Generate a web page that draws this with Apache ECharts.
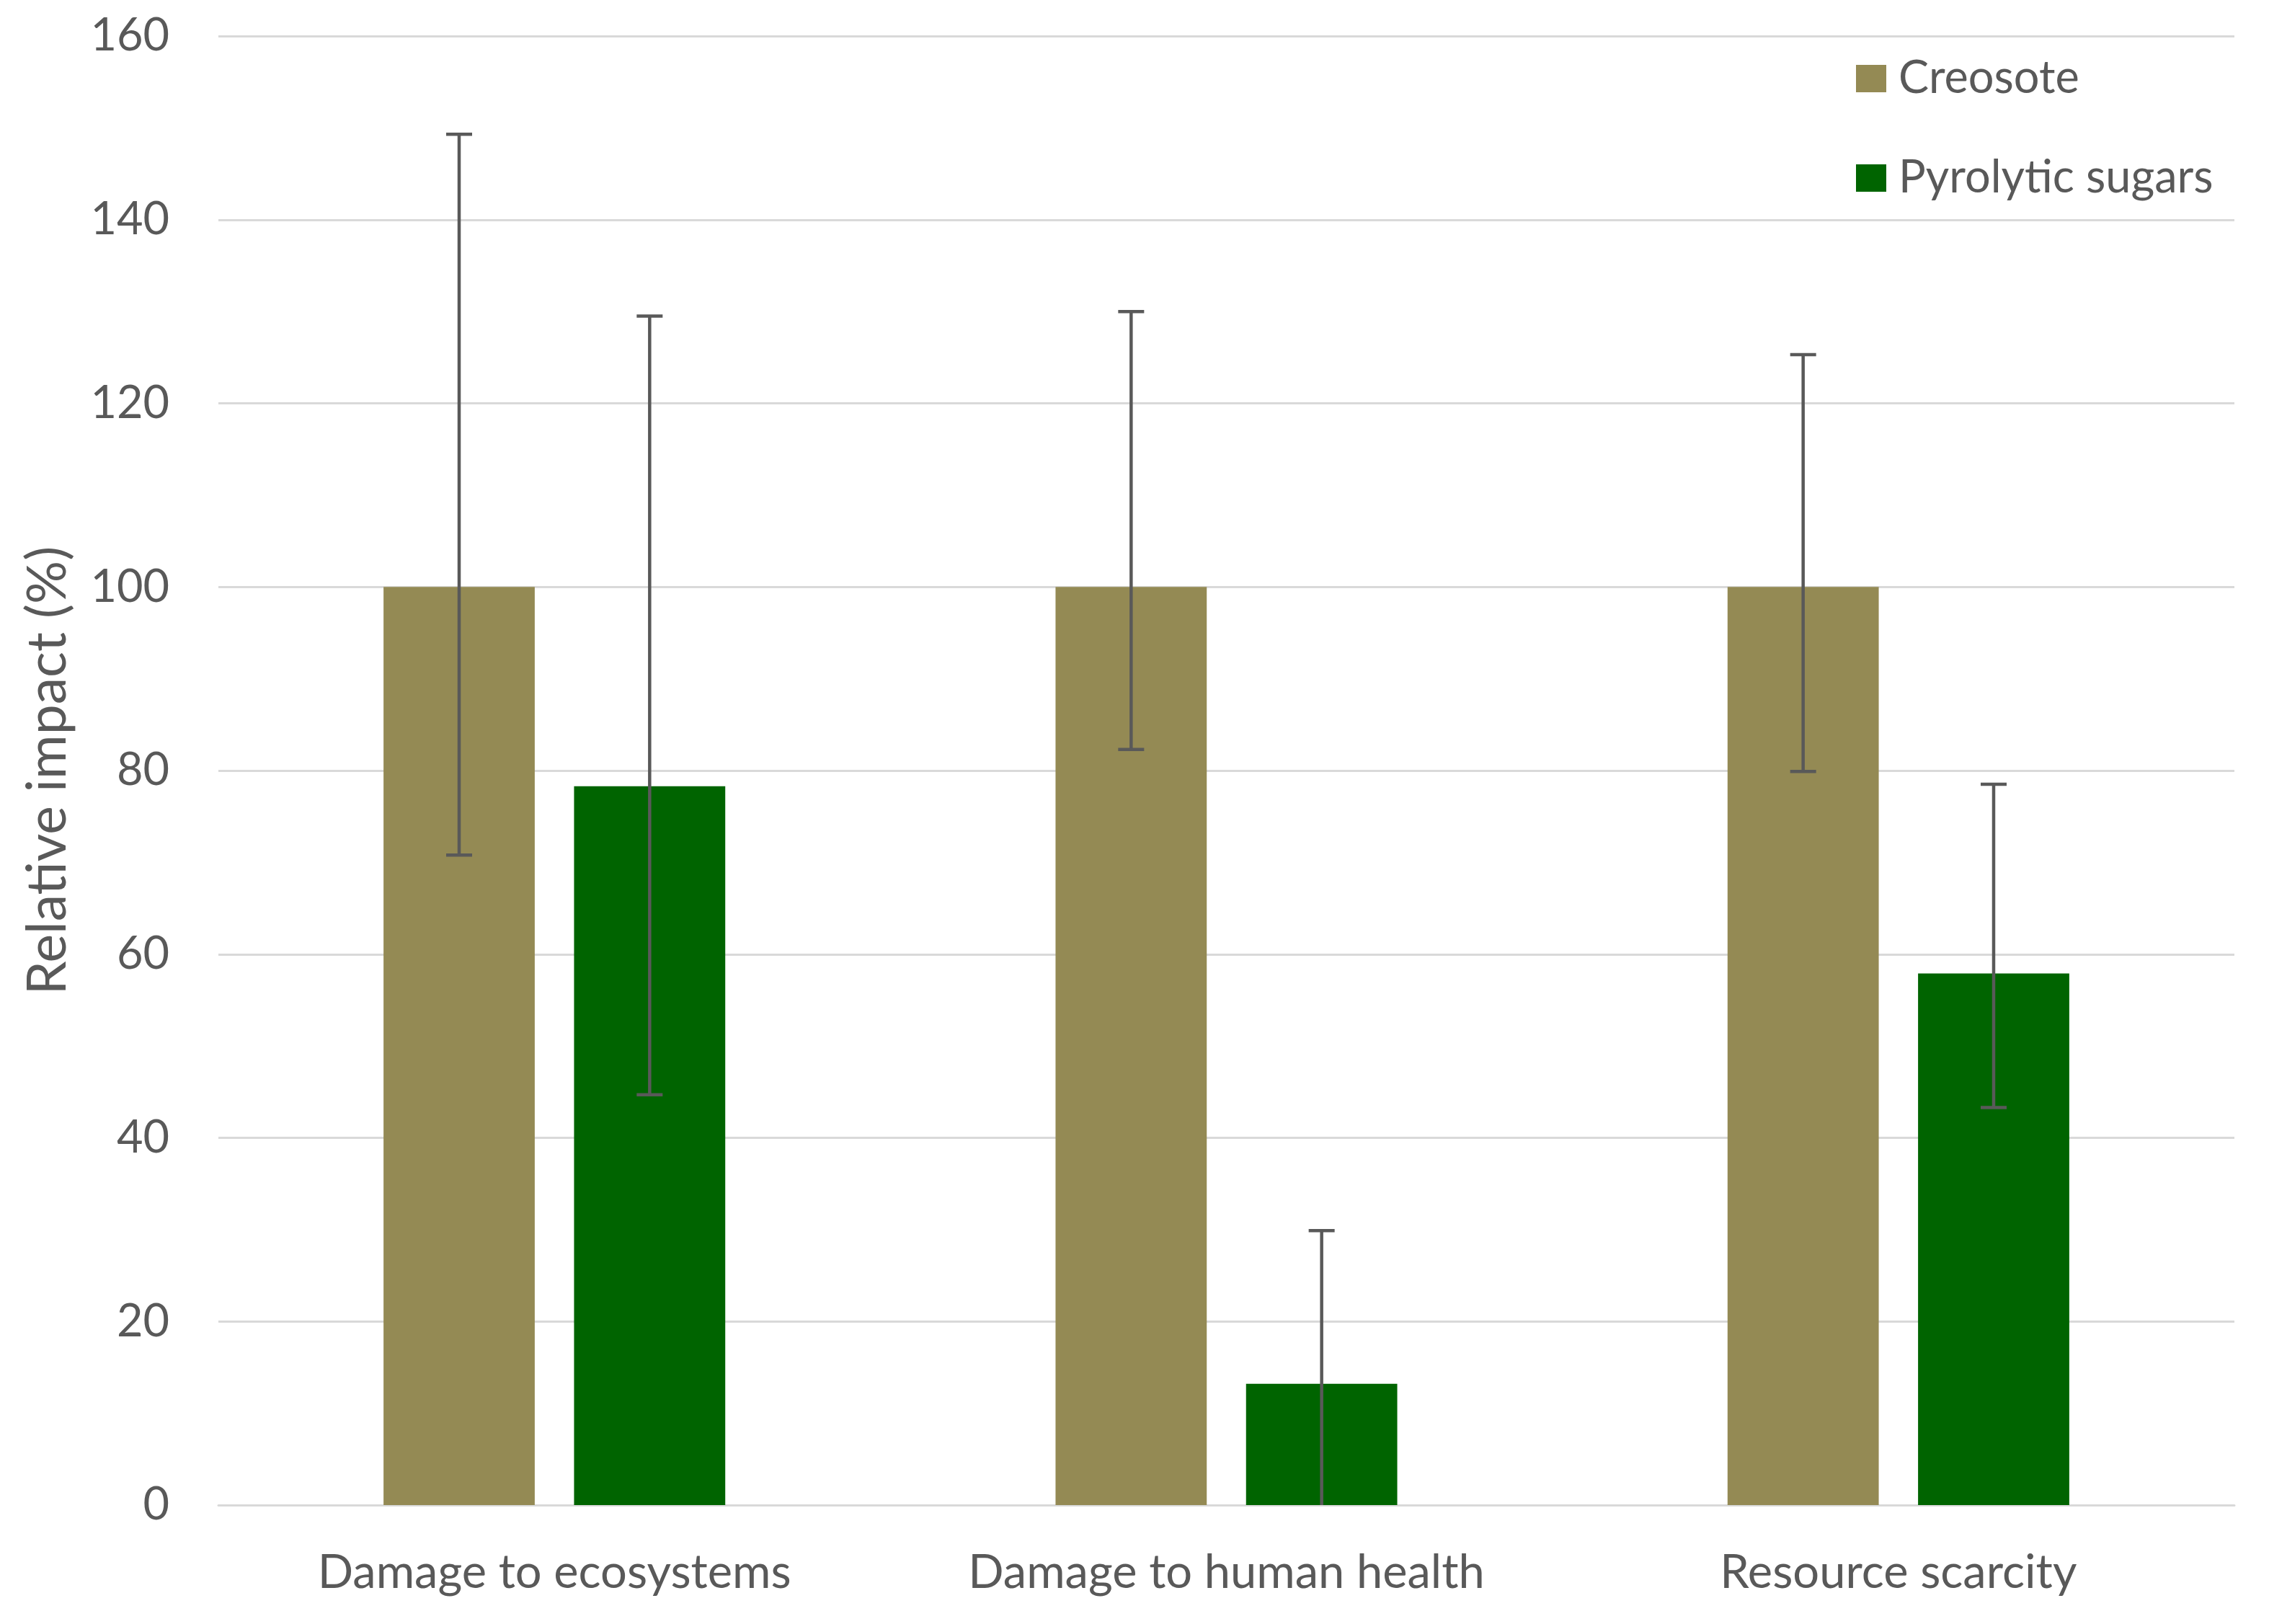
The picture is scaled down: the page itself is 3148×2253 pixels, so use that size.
<!DOCTYPE html>
<html>
<head>
<meta charset="utf-8">
<script src="https://cdn.jsdelivr.net/npm/echarts@6/dist/echarts.min.js"></script>
<style>
html,body{margin:0;padding:0;background:#fff;}
#chart{width:3148px;height:2253px;}
</style>
</head>
<body>
<div id="chart"></div>
<script>
const categories = ['Damage to ecosystems', 'Damage to human health', 'Resource scarcity'];
const seriesNames = ['Creosote', 'Pyrolytic sugars'];
const creosote = [100, 100, 100];
const pyrolytic = [78.3, 13.2, 57.9];
const creosoteHigh = [149.3, 130.0, 125.3];
const creosoteLow = [70.8, 82.3, 79.9];
const pyrolyticHigh = [129.5, 29.9, 78.5];
const pyrolyticLow = [44.7, -3.5, 43.3];
const yTicks = [0, 20, 40, 60, 80, 100, 120, 140, 160];

const FONT = 'Lato';
const TEXT = '#595959';
const BAR_PCT = 0.225;
const GAP_PCT = 0.26;

function errorSeries(name, high, low, side) {
  const data = categories.map((c, i) => [i, low[i], high[i]]);
  return {
    type: 'custom',
    name: name + ' error',
    clip: true,
    z: 10,
    silent: true,
    data: data,
    encode: { x: 0, y: [1, 2] },
    renderItem: function (params, api) {
      const ci = api.value(0);
      const lo = api.value(1);
      const hi = api.value(2);
      const catW = api.size([1, 0])[0];
      const bw = catW * BAR_PCT;
      const off = side * (bw + bw * GAP_PCT) / 2;
      const pHi = api.coord([ci, hi]);
      const pLo = api.coord([ci, lo]);
      const x = pHi[0] + off;
      const cap = 18;
      const style = { stroke: '#595959', lineWidth: 4.5 };
      const children = [
        { type: 'line', shape: { x1: x, y1: pHi[1], x2: x, y2: pLo[1] }, style: style },
        { type: 'line', shape: { x1: x - cap, y1: pHi[1], x2: x + cap, y2: pHi[1] }, style: style }
      ];
      if (lo > 0) {
        children.push({ type: 'line', shape: { x1: x - cap, y1: pLo[1], x2: x + cap, y2: pLo[1] }, style: style });
      }
      return { type: 'group', children: children };
    }
  };
}

const chart = echarts.init(document.getElementById('chart'), null, { renderer: 'canvas' });
chart.setOption({
  backgroundColor: '#ffffff',
  animation: false,
  textStyle: { fontFamily: FONT },
  grid: { left: 303, right: 48, top: 50, bottom: 165, containLabel: false },
  legend: {
    data: seriesNames,
    orient: 'vertical',
    left: 2570,
    top: 64,
    itemWidth: 42,
    itemHeight: 38,
    itemGap: 58,
    icon: 'rect',
    textStyle: { fontFamily: FONT, fontSize: 63, color: TEXT, lineHeight: 80, padding: [0, 0, 0, 12] }
  },
  xAxis: {
    type: 'category',
    data: categories,
    axisLine: { show: true, lineStyle: { color: '#D9D9D9', width: 3 } },
    axisTick: { show: false },
    axisLabel: { fontFamily: FONT, fontSize: 65, color: TEXT, margin: 62 }
  },
  yAxis: {
    type: 'value',
    min: 0,
    max: 160,
    interval: 20,
    name: 'Relative impact (%)',
    nameLocation: 'middle',
    nameGap: 199,
    nameTextStyle: { fontFamily: FONT, fontSize: 75, color: TEXT },
    axisLine: { show: false },
    axisTick: { show: false },
    axisLabel: {
      fontFamily: FONT, fontSize: 63, color: TEXT, margin: 68,
      formatter: function (v) { return yTicks.indexOf(v) >= 0 ? String(v) : ''; }
    },
    splitLine: { show: true, lineStyle: { color: '#D9D9D9', width: 3 } }
  },
  series: [
    {
      name: seriesNames[0], type: 'bar', data: creosote,
      barWidth: (BAR_PCT * 100) + '%', barGap: (GAP_PCT * 100) + '%',
      itemStyle: { color: '#948A54' }
    },
    {
      name: seriesNames[1], type: 'bar', data: pyrolytic,
      barWidth: (BAR_PCT * 100) + '%', barGap: (GAP_PCT * 100) + '%',
      itemStyle: { color: '#006400' }
    },
    errorSeries(seriesNames[0], creosoteHigh, creosoteLow, -1),
    errorSeries(seriesNames[1], pyrolyticHigh, pyrolyticLow, 1)
  ]
});
</script>
</body>
</html>
